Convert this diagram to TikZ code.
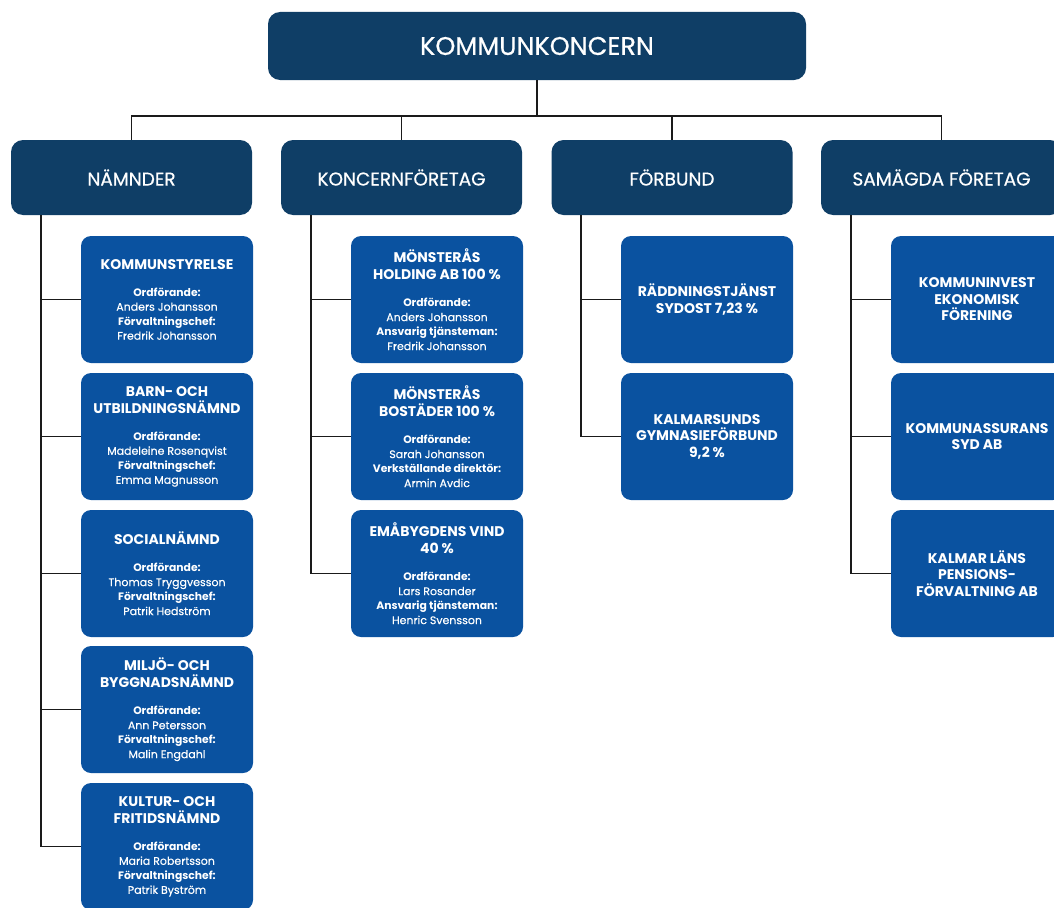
\documentclass[tikz,border=0pt]{standalone}
\usepackage{fontspec}
\setmainfont{Poppins}
\newfontfamily\medfont{Poppins}[FakeBold=0.6]
\newfontfamily\namefont{Poppins}[FakeBold=0.35]
\definecolor{navy}{HTML}{0F3E66}
\definecolor{childblue}{HTML}{0A52A0}
\definecolor{linec}{HTML}{1A1A1A}
\newcommand{\ttl}[1]{{\fontsize{14}{17}\selectfont\bfseries #1}}
\newcommand{\lbl}[1]{{\fontsize{10.8}{14.5}\selectfont\bfseries #1}}
\newcommand{\nm}[1]{{\namefont\fontsize{11}{14.5}\selectfont #1}}
\tikzset{
  topbox/.style={fill=navy, rounded corners=12pt, minimum width=538pt, minimum height=68pt,
    text=white, inner sep=0pt, font=\medfont\fontsize{25.5}{30}\selectfont},
  catbox/.style={fill=navy, rounded corners=12pt, minimum width=241pt, minimum height=75pt,
    text=white, inner sep=0pt, font=\medfont\fontsize{18.5}{22}\selectfont},
  unitbox/.style={fill=childblue, rounded corners=10pt, minimum width=172pt, minimum height=127pt,
    text=white, inner sep=0pt, align=center, font=\fontsize{10.8}{14.5}\selectfont},
  conn/.style={draw=linec, line width=1.9pt},
}
\begin{document}
\begin{tikzpicture}[x=1pt,y=-1pt]
\useasboundingbox (0,0) rectangle (1054,907);
\clip (0,0) rectangle (1054,907);

\node[topbox] (top) at (537,46) {KOMMUNKONCERN};

\node[catbox] (p1) at (131.5,177.5) {NÄMNDER};
\node[catbox] (p2) at (401.5,177.5) {KONCERNFÖRETAG};
\node[catbox] (p3) at (672,177.5) {FÖRBUND};
\node[catbox] (p4) at (941.5,177.5) {SAMÄGDA FÖRETAG};

\coordinate (bus) at (537,116);

% column 1
\node[unitbox] (c11) at (167,299.5) {\ttl{KOMMUNSTYRELSE}\\[12.5pt]\lbl{Ordförande:}\\\nm{Anders Johansson}\\\lbl{Förvaltningschef:}\\\nm{Fredrik Johansson}};
\node[unitbox] (c12) at (167,436.5) {\ttl{BARN- OCH}\\[2.5pt]\ttl{UTBILDNINGSNÄMND}\\[12.5pt]\lbl{Ordförande:}\\\nm{Madeleine Rosenqvist}\\\lbl{Förvaltningschef:}\\\nm{Emma Magnusson}};
\node[unitbox] (c13) at (167,573.5) {\ttl{SOCIALNÄMND}\\[12.5pt]\lbl{Ordförande:}\\\nm{Thomas Tryggvesson}\\\lbl{Förvaltningschef:}\\\nm{Patrik Hedström}};
\node[unitbox] (c14) at (167,709.5) {\ttl{MILJÖ- OCH}\\[2.5pt]\ttl{BYGGNADSNÄMND}\\[12.5pt]\lbl{Ordförande:}\\\nm{Ann Petersson}\\\lbl{Förvaltningschef:}\\\nm{Malin Engdahl}};
\node[unitbox] (c15) at (167,846.5) {\ttl{KULTUR- OCH}\\[2.5pt]\ttl{FRITIDSNÄMND}\\[12.5pt]\lbl{Ordförande:}\\\nm{Maria Robertsson}\\\lbl{Förvaltningschef:}\\\nm{Patrik Byström}};

% column 2
\node[unitbox] (c21) at (437,299.5) {\ttl{MÖNSTERÅS}\\[2.5pt]\ttl{HOLDING AB 100 \%}\\[12.5pt]\lbl{Ordförande:}\\\nm{Anders Johansson}\\\lbl{Ansvarig tjänsteman:}\\\nm{Fredrik Johansson}};
\node[unitbox] (c22) at (437,436.5) {\ttl{MÖNSTERÅS}\\[2.5pt]\ttl{BOSTÄDER 100 \%}\\[12.5pt]\lbl{Ordförande:}\\\nm{Sarah Johansson}\\\lbl{Verkställande direktör:}\\\nm{Armin Avdic}};
\node[unitbox] (c23) at (437,573.5) {\ttl{EMÅBYGDENS VIND}\\[2.5pt]\ttl{40 \%}\\[12.5pt]\lbl{Ordförande:}\\\nm{Lars Rosander}\\\lbl{Ansvarig tjänsteman:}\\\nm{Henric Svensson}};

% column 3
\node[unitbox] (c31) at (707,299.5) {\ttl{RÄDDNINGSTJÄNST}\\[2pt]\ttl{SYDOST 7,23 \%}};
\node[unitbox] (c32) at (707,436.5) {\ttl{KALMARSUNDS}\\[2pt]\ttl{GYMNASIEFÖRBUND}\\[2pt]\ttl{9,2 \%}};

% column 4
\node[unitbox] (c41) at (977,299.5) {\ttl{KOMMUNINVEST}\\[2pt]\ttl{EKONOMISK}\\[2pt]\ttl{FÖRENING}};
\node[unitbox] (c42) at (977,436.5) {\ttl{KOMMUNASSURANS}\\[2pt]\ttl{SYD AB}};
\node[unitbox] (c43) at (977,573.5) {\ttl{KALMAR LÄNS}\\[2pt]\ttl{PENSIONS-}\\[2pt]\ttl{FÖRVALTNING AB}};

% top connectors
\draw[conn] (top.south) -- (bus);
\draw[conn] (p1.north) |- (bus);
\draw[conn] (p4.north) |- (bus);
\draw[conn] (p2.north) -- (p2.north |- bus);
\draw[conn] (p3.north) -- (p3.north |- bus);

% branch coordinates
\coordinate (s1) at ([xshift=30pt]p1.south west);
\coordinate (s2) at ([xshift=30pt]p2.south west);
\coordinate (s3) at ([xshift=30pt]p3.south west);
\coordinate (s4) at ([xshift=30pt]p4.south west);

\draw[conn] (s1) |- (c15.west);
\foreach \c in {c11,c12,c13,c14} \draw[conn] (\c.west) -- (\c.west -| s1);
\draw[conn] (s2) |- (c23.west);
\foreach \c in {c21,c22} \draw[conn] (\c.west) -- (\c.west -| s2);
\draw[conn] (s3) |- (c32.west);
\draw[conn] (c31.west) -- (c31.west -| s3);
\draw[conn] (s4) |- (c43.west);
\foreach \c in {c41,c42} \draw[conn] (\c.west) -- (\c.west -| s4);
\end{tikzpicture}
\end{document}
